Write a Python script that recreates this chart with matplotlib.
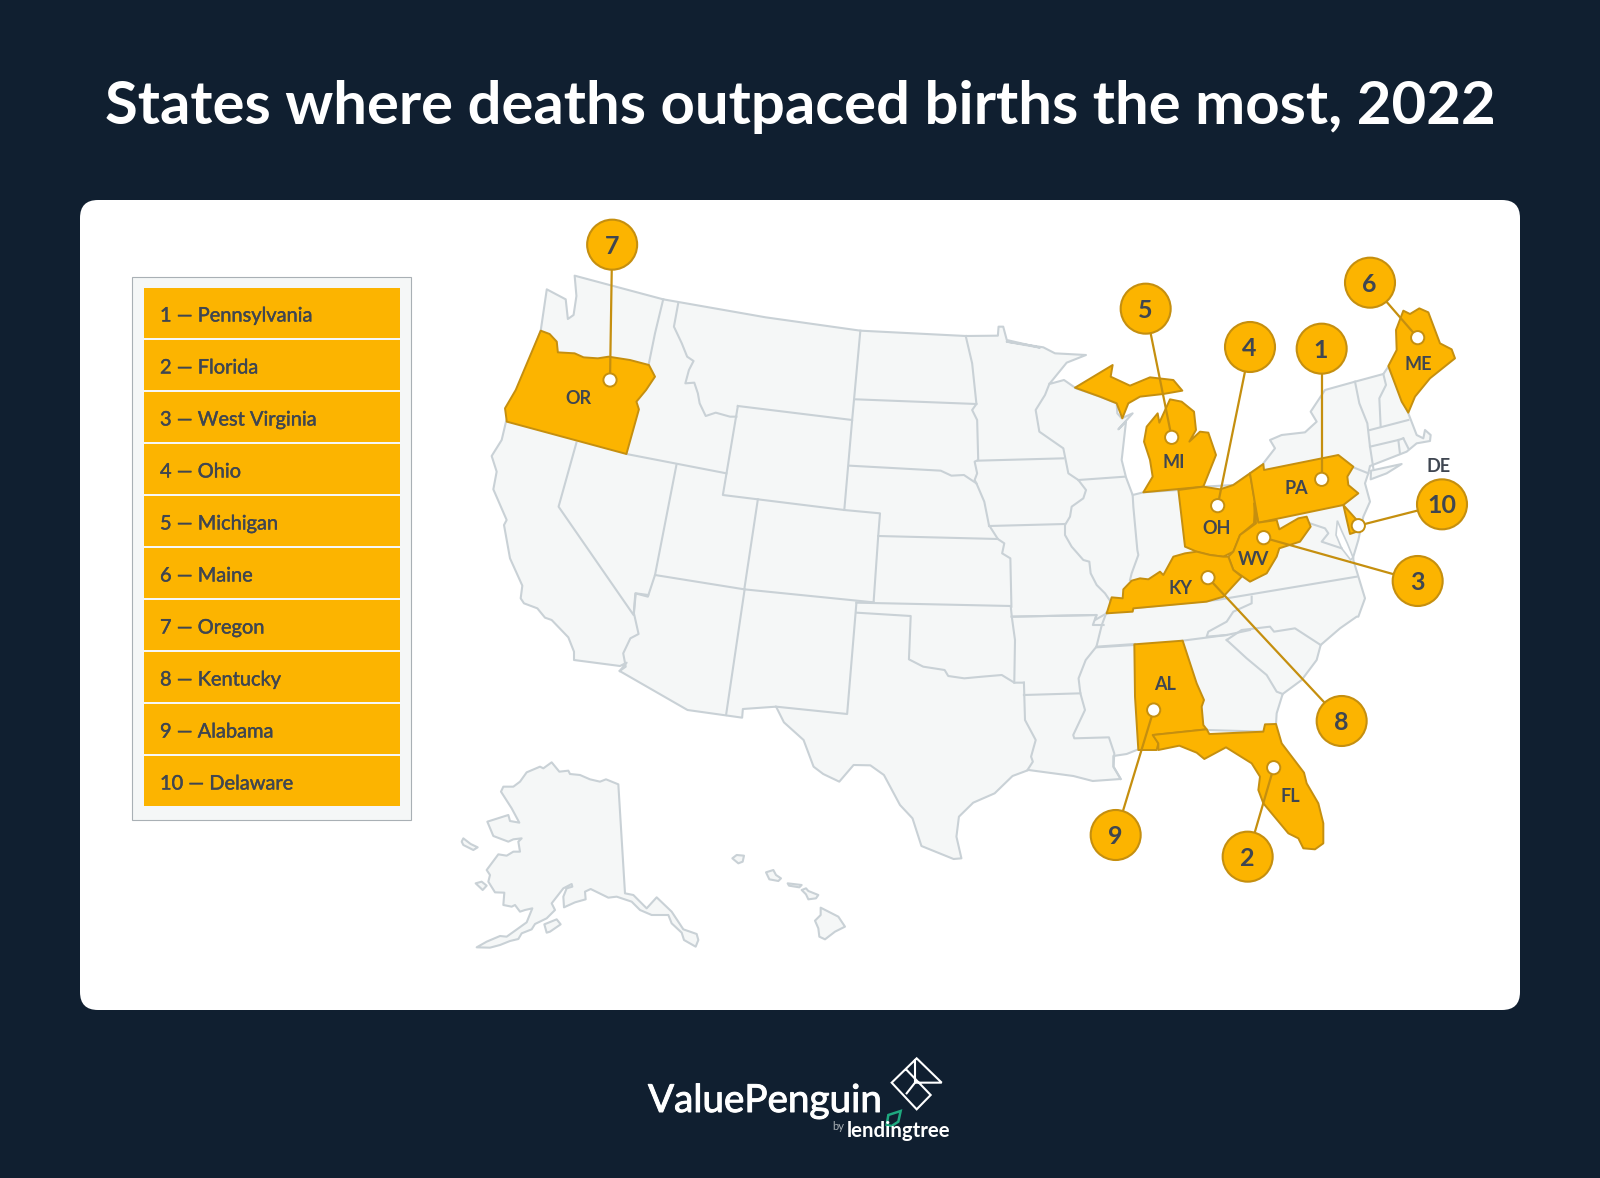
import matplotlib
matplotlib.use("Agg")
import matplotlib.pyplot as plt
import matplotlib.patheffects as pe
from matplotlib.patches import Polygon, Circle, FancyBboxPatch, Rectangle

# ---------- data ----------
TITLE = "States where deaths outpaced births the most, 2022"
STATE_NAMES = ["Pennsylvania", "Florida", "West Virginia", "Ohio", "Michigan",
               "Maine", "Oregon", "Kentucky", "Alabama", "Delaware"]
STATE_RANKS = [1, 2, 3, 4, 5, 6, 7, 8, 9, 10]

BG = "#101F30"; PANEL = "#FFFFFF"; LAND = "#F5F7F7"; EDGE = "#C9D1D6"
GOLD = "#FCB400"; GOLD_EDGE = "#C58F0F"; INK = "#3F4651"

def z1(p): return [(480 + x / 2.8, 200 + y / 3) for x, y in p]
def z2(p): return [(1000 + x / 3, 240 + y / 3) for x, y in p]
def z3(p): return [(600 + x / 2.8, 560 + y / 3) for x, y in p]
def z4(p): return [(1050 + x / 3, 580 + y / 3) for x, y in p]
def z5(p): return [(450 + x / 3, 740 + y / 3) for x, y in p]
def z8(p): return [(480 + x / 3, 420 + y / 3) for x, y in p]
def z9(p): return [(1260 + x / 3, 360 + y / 3) for x, y in p]

MAINLAND = (
    z1([(170,392),(187,268),(240,298),(246,357),(262,345),(270,288),(265,227),(513,298),(800,352),
        (1065,392),(1360,408),(1450,407),(1452,380),(1465,380),(1475,420),(1568,443)])
    + z2([(20,305),(130,322),(165,340),(258,345),(200,368),(148,432),(192,420),(228,445),(300,470),
          (350,490),(352,520),(365,535),(398,520),(355,568),(378,545),(365,660),(378,712),(398,765),
          (430,757),(535,750),(610,740),(700,735),(790,672)])
    + z9([(10,310),(45,265),(30,240),(65,225),(135,217),(170,185),(152,155),(195,90),(285,65),
          (370,42),(385,20),(445,160),(470,225),(490,235),(495,210),(512,225),(510,243),(470,250),
          (440,275),(330,318),(325,340),(315,370),(330,425),(310,470),(295,540),(280,590),(280,600),
          (315,715),(295,770)])
    + z4([(920,110),(870,145),(812,195),(800,240),(755,300),(698,342),(680,400),(678,432),(640,455),
          (470,450),(320,490),(260,510),(230,522),(190,528),(190,560),(212,597),(128,603),(70,588)])
    + z3([(1200,630),(1155,648),(1105,700),(1045,728),(1005,770),(998,830),(1012,895),(990,897),
          (900,858),(875,775),(840,735),(795,645),(757,616),(710,615),(670,665),(625,642),(598,620),
          (570,540),(515,487),(493,440),(400,447),(398,473),(245,450),(55,333)])
    + z8([(440,728),(420,738),(282,720),(282,695),(265,652),(215,600),(195,593),(172,565),(132,550),
          (122,535),(127,497),(90,415),(72,315),(80,300),(40,208),(50,155),(35,108),(65,60),(78,5)])
)
LONG_ISLAND = z9([(333,332),(425,312),(380,340),(332,358)])
CHESAPEAKE = z9([(232,482),(228,525),(245,565),(272,600),(279,592),(262,550),(246,515)])
ALASKA = z5([(305,67),(328,95),(355,92),(360,102),(390,105),(420,118),(450,125),(468,118),(505,133),
    (525,460),(550,465),(590,505),(620,472),(665,515),(700,568),(740,582),(745,600),(737,620),(702,600),
    (695,578),(665,550),(655,525),(605,525),(570,510),(545,485),(500,470),(475,473),(422,447),(405,455),
    (407,478),(375,487),(342,502),(340,470),(350,445),(367,440),(365,432),(340,445),(305,490),(315,510),
    (290,535),(255,552),(245,568),(215,580),(205,597),(180,603),(150,615),(120,623),(80,622),(110,605),
    (150,588),(170,590),(205,565),(230,547),(247,505),(225,510),(210,515),(195,495),(185,500),(160,495),
    (163,458),(135,457),(115,425),(120,405),(110,390),(145,343),(170,347),(190,335),(210,335),(205,305),
    (215,295),(190,298),(175,305),(130,288),(112,245),(175,225),(180,243),(208,248),(185,205),(153,155),
    (160,140),(190,140),(210,125),(230,97),(270,80),(280,85)])
ISLANDS = [
    z5([(35,305),(40,295),(62,312),(83,322),(70,330),(40,315)]),
    z5([(77,430),(95,425),(110,437),(98,450)]),
    z5([(283,553),(320,538),(332,553),(300,575),(290,578)]),
    z5([(847,355),(860,345),(882,347),(878,365),(865,370)]),
    z5([(948,397),(970,390),(978,405),(993,415),(985,423),(958,418)]),
    z5([(1013,430),(1055,435),(1048,442),(1017,437)]),
    z5([(1055,450),(1068,445),(1075,453),(1105,465),(1098,475),(1075,478),(1068,463)]),
    z5([(1112,503),(1165,530),(1185,560),(1155,575),(1125,598),(1108,590),(1105,565),(1095,542),(1112,525)]),
]
BORDERS = [
    z1([(513,298),(490,400),(472,495)]),
    z1([(555,310),(543,380),(565,430),(580,470),(598,483),(585,510),(575,550),(600,548),(610,580),(615,610),
        (632,648),(660,638),(700,650),(718,650)]),
    z1([(722,618),(1042,660),(1020,930),(680,885),(722,618)]),
    z1([(1065,392),(1042,660)]),
    z1([(1053,598),(1390,612)]),
    z1([(1360,408),(1378,490),(1390,612),(1378,630),(1392,660),(1395,780),(1385,785),(1392,820),(1385,840),(1390,850)]),
    z1([(1035,797),(1290,812),(1320,827),(1355,825),(1390,850),(1412,905),(1425,975),(1450,1017),(1468,1030),
        (1462,1060),(1485,1075),(1488,1220)]),
    z1([(1115,1008),(1450,1017)]),
    z1([(1020,930),(1120,940),(1115,1008),(1102,1207)]),
    z1([(778,898),(740,1168)]),
    z1([(550,795),(490,1125)]),
    z1([(410,762),(690,820)]),
    z1([(270,728),(220,920),(430,1245),(435,1180),(470,1190),(490,1125),(740,1168),(1102,1207)]),
    z3([(405,88),(353,465)]),
    z3([(718,128),(692,462),(493,440)]),
    z3([(135,105),(100,100),(95,160),(108,222),(85,235),(65,280),(72,320),(55,333)]),
    z3([(718,128),(1150,138)]),
    z3([(718,158),(870,168),(865,298),(905,320),(965,330),(975,348),(1020,355),(1070,350),(1125,345),(1160,368),(1187,368)]),
    z3([(1150,138),(1153,170),(1162,240),(1160,368)]),
    z3([(1187,368),(1190,480),(1220,540),(1207,590),(1212,605),(1197,630)]),
    z3([(1187,405),(1345,400)]),
    z3([(1153,170),(1390,165),(1380,195),(1410,195)]),
    z3([(1418,158),(1405,195),(1390,260),(1360,300),(1340,355),(1345,400),(1358,450),(1325,525),(1328,535),(1425,532),(1440,580),(1438,620),(1458,657)]),
    z3([(1390,262),(1495,255)]),
    z2([(148,432),(135,465),(107,510),(118,575),(190,625),(205,700),(235,720),(258,750),(250,775),(215,800),(210,830),
        (195,855),(195,885),(215,920),(250,960),(268,965),(272,1000),(290,1035),(315,1060),(330,1082)]),
    z2([(-66,662),(190,655)]),
    z2([(235,720),(375,710)]),
    z2([(-33,858),(195,852)]),
    z2([(398,765),(400,800),(412,930),(415,945),(395,1000),(390,1020)]),
    z2([(35,1130),(290,1125),(285,1140),(320,1120)]),
    z2([(320,1120),(400,1105),(650,1080),(1070,1010)]),
    z4([(140,200),(255,192)]),
    z4([(398,182),(530,165),(600,150)]),
    z4([(605,50),(605,70),(550,95),(530,125),(475,155),(470,170),(530,165)]),
    z4([(530,180),(575,150),(660,140),(672,155),(735,145),(812,195)]),
    z4([(530,180),(590,235),(650,285),(680,335),(698,342)]),
    z9([(285,65),(298,130),(322,190),(330,260),(340,325)]),
    z9([(370,42),(378,75),(358,115),(362,200)]),
    z9([(330,210),(445,180)]),
    z9([(330,260),(415,240),(430,235)]),
    z9([(415,240),(420,282)]),
    z9([(430,235),(445,265)]),
    z9([(275,320),(325,340)]),
    z9([(150,490),(195,505),(205,520),(185,545),(230,560),(245,565)]),
]
STATE_SHAPES = {
    "ME": z2([(1165,378),(1190,330),(1188,270),(1210,212),(1230,222),(1258,205),(1285,217),(1320,310),(1355,328),
              (1365,355),(1290,415),(1245,470),(1225,518),(1205,485)]),
    "UP": z2([(225,443),(338,375),(332,410),(390,437),(450,412),(520,420),(547,452),(490,462),(420,470),(385,490),
              (367,535),(350,490),(300,470)]),
    "MI": z2([(430,757),(458,710),(450,660),(432,605),(440,560),(473,520),(478,548),(510,478),(545,485),(582,515),
              (588,570),(568,605),(600,575),(625,578),(648,645),(610,740)]),
    "OH": z2([(535,750),(610,740),(660,748),(700,735),(750,700),(765,790),(762,850),(720,885),(700,935),(670,950),
              (630,945),(590,935),(555,920)]),
    "PA": z2([(750,700),(790,672),(792,690),(1015,645),(1060,680),(1042,710),(1045,735),(1075,760),(1030,795),
              (775,848),(765,790)]),
    "WV": z2([(762,790),(768,850),(720,885),(700,935),(685,950),(700,990),(750,1025),(800,1000),(830,950),(838,925),
              (900,905),(932,860),(920,830),(895,835),(838,868),(830,840),(775,848)]),
    "KY": z2([(320,1120),(335,1072),(368,1075),(370,1048),(395,1022),(420,1015),(445,1018),(480,995),(490,1005),(520,950),
              (555,940),(590,935),(630,945),(670,950),(685,950),(700,990),(725,1010),(670,1070),(620,1085),(400,1105),(398,1115)]),
    "DE": z2([(1030,795),(1075,845),(1085,870),(1050,882)]),
    "AL": z4([(253,193),(398,182),(440,310),(462,360),(455,380),(460,435),(470,448),(310,465),(325,490),(320,510),
              (265,510),(255,350)]),
    "FL": z4([(308,465),(470,448),(478,462),(640,455),(645,433),(678,432),(695,490),(762,578),(770,610),(805,670),
              (820,730),(820,790),(795,808),(760,805),(745,775),(715,760),(640,670),(625,630),(630,590),(605,550),
              (528,502),(463,537),(440,518),(388,497),(325,510),(325,490)]),
    "OR": z1([(170,392),(195,402),(215,425),(218,457),(265,460),(290,472),(330,475),(360,470),(420,480),(473,495),
              (490,530),(465,570),(438,605),(445,628),(410,762),(75,665),(70,625),(100,570)]),
}
RANK_CIRCLES = dict(zip(STATE_RANKS, z2([(965,323)]) + z4([(593,827)]) + z2([(1253,1020),(750,318),(437,203),(1110,125)])
                        + z1([(370,131)]) + z4([(875,420),(197,762)]) + z2([(1326,790)])))
RANK_DOTS = dict(zip(STATE_RANKS, z2([(965,718)]) + z4([(671,563)]) + z2([(791,893),(653,797),(515,592),(1253,293)])
                     + z1([(364,540)]) + z2([(624,1013)]) + z4([(311,390)]) + z2([(1075,857)])))
ABBREVS = ["PA", "FL", "WV", "OH", "MI", "ME", "OR", "KY", "AL", "DE"]
ABBREV_POS = z2([(888,742)]) + z4([(720,648)]) + z2([(762,955),(650,862),(522,665),(1255,372)]) + z1([(275,593)]) \
    + z2([(543,1043)]) + z4([(345,312)]) + z2([(1317,677)])

# ---------- figure ----------
plt.rcParams["font.family"] = ["Lato", "DejaVu Sans"]
fig = plt.figure(figsize=(16, 11.78), dpi=100, facecolor=BG)
ax = fig.add_axes([0, 0, 1, 1])
ax.set_xlim(0, 1600); ax.set_ylim(1178, 0); ax.axis("off")

def heavier(amount, colour):
    return [pe.withStroke(linewidth=amount, foreground=colour)]

ax.text(800, 107, TITLE, color="white", fontsize=43.1, fontweight="bold", ha="center", va="center")
ax.add_patch(FancyBboxPatch((80, 200), 1440, 810, boxstyle="round,pad=0,rounding_size=18",
                            fc=PANEL, ec="none", zorder=1))

# legend
ax.add_patch(Rectangle((132, 276.5), 279, 543, fc=LAND, ec="#A9B0B5", lw=0.8, zorder=2))
for i, (rank, name) in enumerate(zip(STATE_RANKS, STATE_NAMES)):
    y0 = 288 + 52 * i
    ax.add_patch(Rectangle((144, y0), 256, 50, fc=GOLD, ec="none", zorder=3))
    ax.text(160, y0 + 28, f"{rank} \u2014 {name}", color=INK, fontsize=14.4, va="center", ha="left", zorder=4,
            path_effects=heavier(0.3, INK))

# map
line_kw = dict(fc=LAND, ec=EDGE, lw=1.5, joinstyle="round", zorder=3)
for shape in [MAINLAND, LONG_ISLAND, ALASKA] + ISLANDS:
    ax.add_patch(Polygon(shape, closed=True, **line_kw))
ax.add_patch(Polygon(CHESAPEAKE, closed=True, fc=PANEL, ec=EDGE, lw=1.2, zorder=3.1))
for b in BORDERS:
    xs, ys = zip(*b)
    ax.plot(xs, ys, color=EDGE, lw=1.5, solid_joinstyle="round", zorder=3.2)
for key, shape in STATE_SHAPES.items():
    ax.add_patch(Polygon(shape, closed=True, fc=GOLD, ec=GOLD_EDGE, lw=1.4, joinstyle="round", zorder=4))

for ab, (x, y) in zip(ABBREVS, ABBREV_POS):
    ax.text(x, y + 1, ab, color=INK, fontsize=13, fontweight="bold", ha="center", va="center", zorder=7)

for rank in STATE_RANKS:
    cx, cy = RANK_CIRCLES[rank]; dx, dy = RANK_DOTS[rank]
    cy += 1
    ax.plot([cx, dx], [cy, dy], color=GOLD_EDGE, lw=1.6, zorder=5)
    ax.add_patch(Circle((cx, cy), 25, fc=GOLD, ec=GOLD_EDGE, lw=1.5, zorder=6))
    ax.add_patch(Circle((dx, dy), 6.6, fc="white", ec=GOLD_EDGE, lw=1.4, zorder=6))
    ax.text(cx - 0.5, cy + 1.5, str(rank), color=INK, fontsize=18, fontweight="bold", ha="center", va="center", zorder=7)

# brand mark
ax.text(648, 1101, "ValuePenguin", color="white", fontsize=27.8, ha="left", va="center",
        path_effects=heavier(0.7, "white"))
def z6(p): return [(620 + x / 3, 1040 + y / 3) for x, y in p]
for seg in ([(860,90),(932,165),(890,208),(815,128),(890,55),(965,128),(885,128),(885,60)],
            [(885,128),(860,160)]):
    xs, ys = zip(*z6(seg))
    ax.plot(xs, ys, color="white", lw=1.5, solid_joinstyle="miter")
ax.text(832, 1127, "by", color="#A9B0B5", fontsize=8, ha="left", va="center")
ax.text(847, 1131, "lendingtree", color="white", fontsize=14.7, fontweight="bold", ha="left", va="center")
leaf = z6([(800,255),(805,225),(842,213),(835,245),(815,258)])
ax.add_patch(Polygon(leaf, closed=True, fc="none", ec="#1FA97F", lw=1.8))

fig.savefig("out.png", dpi=100, facecolor=BG)
